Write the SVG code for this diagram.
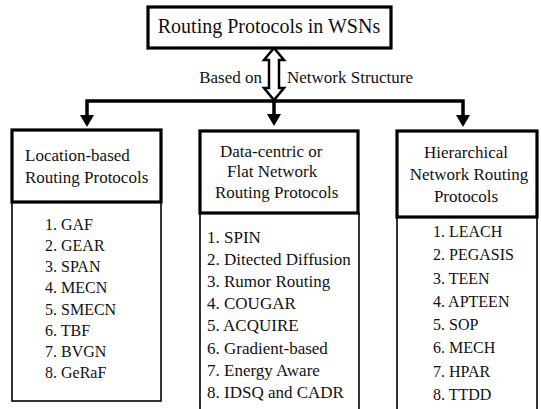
<svg xmlns="http://www.w3.org/2000/svg" width="541" height="409" viewBox="0 0 541 409">
<style>
text{font-family:"Liberation Serif","Times New Roman",serif;fill:#111}
.hdr{fill:#fff;stroke:#000;stroke-width:3.2}
.lst{fill:#fff;stroke:#000;stroke-width:1.6}
.t17{font-size:17px}
.t16{font-size:16px}
.c{text-anchor:middle}
</style>
<rect width="541" height="409" fill="#fff"/>
<g id="connectors">
<polygon points="274,48 284,60 279,60 279,88 284,88 274,100 264,88 269,88 269,60 264,60" fill="#fff" stroke="#000" stroke-width="2.5" stroke-linejoin="miter"/>
<polyline points="87,118 87,101 463,101 463,118" fill="none" stroke="#000" stroke-width="3.5"/>
<line x1="274" y1="101" x2="274" y2="117" stroke="#000" stroke-width="3.5"/>
<polygon points="80,115 94,115 87,127" fill="#000"/>
<polygon points="267,114 281,114 274,126" fill="#000"/>
<polygon points="456,115 470,115 463,127" fill="#000"/>
<text class="t17" x="262" y="83" text-anchor="end">Based on</text>
<text class="t17" x="287" y="83">Network Structure</text>
</g>
<g id="root">
<rect class="hdr" x="148" y="7" width="243" height="41"/>
<text x="269" y="33" class="c" font-size="20">Routing Protocols in WSNs</text>
</g>
<g id="location">
<rect class="lst" x="12" y="202" width="149" height="199"/>
<rect class="hdr" x="12" y="130" width="149" height="72"/>
<text class="t17" x="25" y="161">Location-based</text>
<text class="t17" x="25" y="183">Routing Protocols</text>
<g class="t16">
<text x="45" y="230">1. GAF</text>
<text x="45" y="251">2. GEAR</text>
<text x="45" y="272">3. SPAN</text>
<text x="45" y="293">4. MECN</text>
<text x="45" y="315">5. SMECN</text>
<text x="45" y="336">6. TBF</text>
<text x="45" y="357">7. BVGN</text>
<text x="45" y="378">8. GeRaF</text>
</g>
</g>
<g id="datacentric">
<rect class="lst" x="200" y="213" width="159" height="205"/>
<rect class="hdr" x="200" y="131" width="158" height="82"/>
<text class="t17" x="220" y="157">Data-centric or</text>
<text class="t17" x="227" y="177">Flat Network</text>
<text class="t17" x="215" y="198">Routing Protocols</text>
<g class="t17">
<text x="207" y="243">1. SPIN</text>
<text x="207" y="265">2. Ditected Diffusion</text>
<text x="207" y="287">3. Rumor Routing</text>
<text x="207" y="309">4. COUGAR</text>
<text x="207" y="331">5. ACQUIRE</text>
<text x="207" y="354">6. Gradient-based</text>
<text x="207" y="376">7. Energy Aware</text>
<text x="207" y="398">8. IDSQ and CADR</text>
</g>
</g>
<g id="hierarchical">
<rect class="lst" x="397" y="217" width="140" height="205"/>
<rect class="hdr" x="397" y="131" width="140" height="86"/>
<text class="t17 c" x="466" y="158">Hierarchical</text>
<text class="t17 c" x="469" y="180">Network Routing</text>
<text class="t17 c" x="466" y="202">Protocols</text>
<g class="t16">
<text x="433" y="237">1. LEACH</text>
<text x="433" y="260">2. PEGASIS</text>
<text x="433" y="284">3. TEEN</text>
<text x="433" y="307">4. APTEEN</text>
<text x="433" y="330">5. SOP</text>
<text x="433" y="353">6. MECH</text>
<text x="433" y="377">7. HPAR</text>
<text x="433" y="400">8. TTDD</text>
</g>
</g>
</svg>
